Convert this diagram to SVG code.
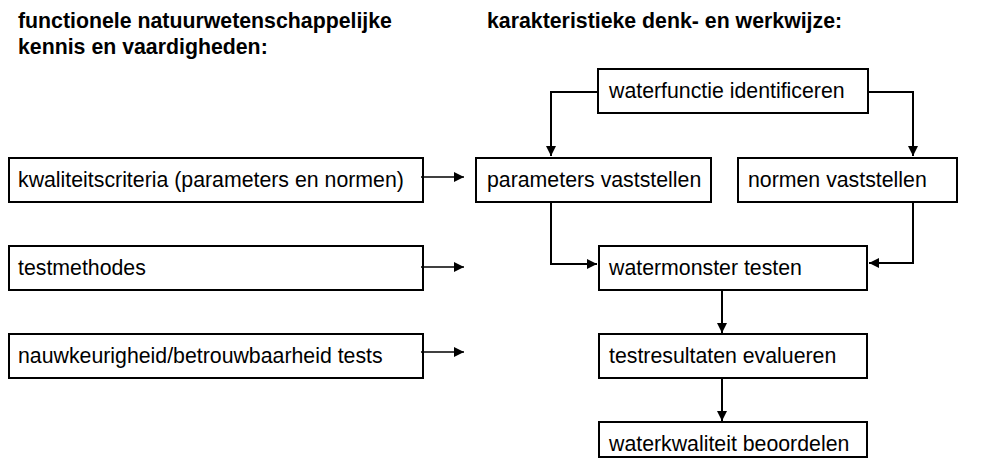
<svg xmlns="http://www.w3.org/2000/svg" width="992" height="459" viewBox="0 0 992 459">
<style>
.box{fill:#fff;stroke:#000;stroke-width:2}
.t{font-family:"Liberation Sans",Arial,sans-serif;font-size:21.3px;fill:#000}
.h{font-family:"Liberation Sans",Arial,sans-serif;font-size:21.3px;font-weight:bold;fill:#000}
.c{fill:none;stroke:#000;stroke-width:2}
.cs{fill:none;stroke:#000;stroke-width:1.5}
</style>
<defs>
<marker id="ah" markerWidth="10" markerHeight="10" refX="10" refY="5" orient="auto" markerUnits="userSpaceOnUse">
<path d="M0,0 L10,5 L0,10 Z" fill="#000"/>
</marker>
</defs>
<rect width="992" height="459" fill="#fff"/>
<g id="headings">
<text class="h" x="18" y="28">functionele natuurwetenschappelijke</text>
<text class="h" x="18" y="54">kennis en vaardigheden:</text>
<text class="h" x="487" y="28">karakteristieke denk- en werkwijze:</text>
</g>
<g id="n-kwaliteit"><rect class="box" x="9" y="158" width="414" height="44"/><text class="t" x="18" y="187">kwaliteitscriteria (parameters en normen)</text></g>
<g id="n-testmethodes"><rect class="box" x="9" y="246" width="414" height="44"/><text class="t" x="18" y="275">testmethodes</text></g>
<g id="n-nauwkeurigheid"><rect class="box" x="9" y="334" width="414" height="44"/><text class="t" x="18" y="363">nauwkeurigheid/betrouwbaarheid tests</text></g>
<g id="n-waterfunctie"><rect class="box" x="598" y="69" width="270" height="44"/><text class="t" x="609" y="98">waterfunctie identificeren</text></g>
<g id="n-parameters"><rect class="box" x="476" y="158" width="235" height="44"/><text class="t" x="487" y="187">parameters vaststellen</text></g>
<g id="n-normen"><rect class="box" x="738" y="158" width="219" height="44"/><text class="t" x="748" y="187">normen vaststellen</text></g>
<g id="n-watermonster"><rect class="box" x="599" y="246" width="268" height="44"/><text class="t" x="609" y="275">watermonster testen</text></g>
<g id="n-testresultaten"><rect class="box" x="599" y="334" width="268" height="44"/><text class="t" x="609" y="363">testresultaten evalueren</text></g>
<g id="n-waterkwaliteit"><rect class="box" x="599" y="422" width="268" height="35"/><text class="t" x="609" y="451">waterkwaliteit beoordelen</text></g>
<g id="connectors">
<path class="cs" d="M421,177 H464" marker-end="url(#ah)"/>
<path class="cs" d="M421,267 H464" marker-end="url(#ah)"/>
<path class="cs" d="M421,352 H464" marker-end="url(#ah)"/>
<path class="c" d="M598,92 H551 V156" marker-end="url(#ah)"/>
<path class="c" d="M868,92 H913 V156" marker-end="url(#ah)"/>
<path class="c" d="M551,202 V264 H597" marker-end="url(#ah)"/>
<path class="c" d="M913,202 V263 H869" marker-end="url(#ah)"/>
<path class="c" d="M722,290 V333" marker-end="url(#ah)"/>
<path class="c" d="M722,378 V421" marker-end="url(#ah)"/>
</g>
</svg>
